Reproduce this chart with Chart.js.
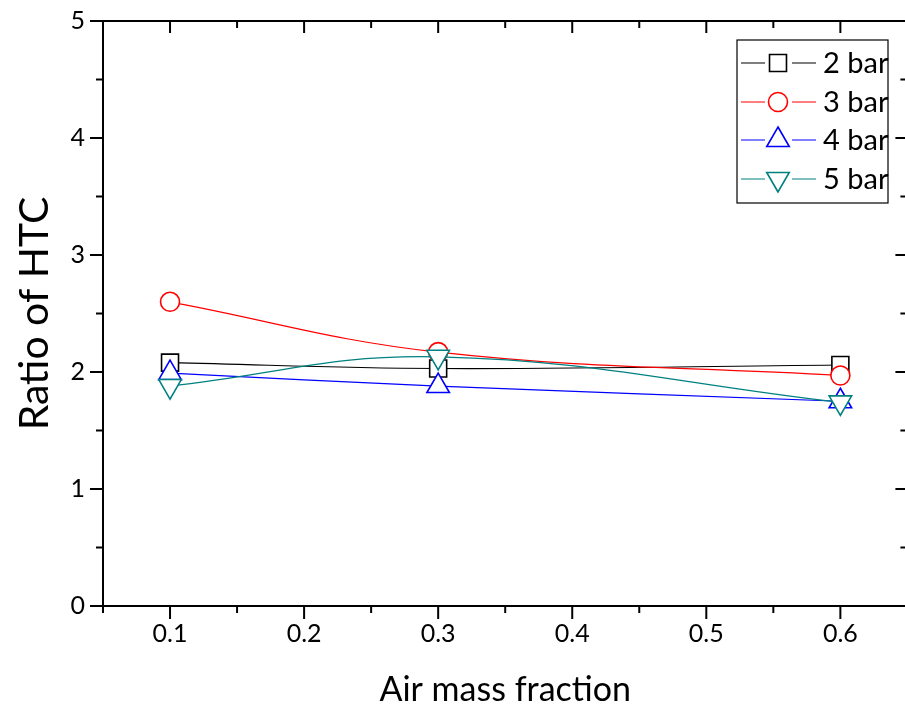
<!DOCTYPE html>
<html>
<head>
<meta charset="utf-8">
<script src="https://cdn.jsdelivr.net/npm/chart.js@4"></script>
<style>
  html, body { margin: 0; padding: 0; background: #fff; overflow: hidden; }
  canvas { display: block; }
</style>
</head>
<body>
<canvas id="htcChart" width="922" height="714"></canvas>
<script>
// Ratio of HTC vs air mass fraction

const airFraction = [0.1, 0.3, 0.6];
const bar2 = [2.08, 2.03, 2.06];
const bar3 = [2.60, 2.17, 1.97];
const bar4 = [1.99, 1.88, 1.75];
const bar5 = [1.88, 2.13, 1.74];
const seriesNames = ['2 bar', '3 bar', '4 bar', '5 bar'];

const xTicks = [0.1, 0.2, 0.3, 0.4, 0.5, 0.6];
const xMinorTicks = [0.05, 0.15, 0.25, 0.35, 0.45, 0.55, 0.65];
const yTicks = [0, 1, 2, 3, 4, 5];
const yMinorTicks = [0.5, 1.5, 2.5, 3.5, 4.5];

const FONT = 'Lato, "Open Sans", sans-serif';

function toPoints(ys) {
    return airFraction.map((x, i) => ({ x: x, y: ys[i] }));
}

function makeSeries(label, ys, color, style, radius, rotation, order) {
    return {
        label: label,
        data: toPoints(ys),
        showLine: true,
        tension: 0.4,
        borderColor: color,
        borderWidth: 1.2,
        pointStyle: style,
        pointRadius: radius,
        pointHoverRadius: radius,
        pointRotation: rotation,
        pointBorderColor: color,
        pointBackgroundColor: '#fff',
        pointBorderWidth: 1.6,
        order: order
    };
}

const datasets = [
    makeSeries(seriesNames[0], bar2, '#000000', 'rect', 12, 0, 4),
    makeSeries(seriesNames[1], bar3, '#ff0000', 'circle', 9.5, 0, 3),
    makeSeries(seriesNames[2], bar4, '#0000ff', 'triangle', 13, 0, 2),
    makeSeries(seriesNames[3], bar5, '#008080', 'triangle', 13, 180, 1)
];

// frame, outward ticks on bottom/left, inward ticks on top/right
const frameTicks = {
    id: 'frameTicks',
    afterDraw(chart) {
        const { ctx, chartArea: a, scales: { x, y } } = chart;
        ctx.save();
        ctx.strokeStyle = '#000';
        ctx.lineWidth = 2;
        ctx.strokeRect(a.left, a.top, a.right - a.left, a.bottom - a.top);
        const seg = (x1, y1, x2, y2) => {
            ctx.beginPath(); ctx.moveTo(x1, y1); ctx.lineTo(x2, y2); ctx.stroke();
        };
        xTicks.forEach(v => {
            const px = x.getPixelForValue(v);
            seg(px, a.bottom, px, a.bottom + 13);
            seg(px, a.top, px, a.top + 12);
        });
        xMinorTicks.forEach(v => {
            const px = x.getPixelForValue(v);
            seg(px, a.bottom, px, a.bottom + 7);
            seg(px, a.top, px, a.top + 7);
        });
        yTicks.forEach(v => {
            const py = y.getPixelForValue(v);
            seg(a.left - 13, py, a.left, py);
            seg(a.right - 12, py, a.right, py);
        });
        yMinorTicks.forEach(v => {
            const py = y.getPixelForValue(v);
            seg(a.left - 7, py, a.left, py);
            seg(a.right - 7, py, a.right, py);
        });
        ctx.restore();
    }
};

// legend box inside the plot, top right
const boxLegend = {
    id: 'boxLegend',
    afterDraw(chart) {
        const { ctx } = chart;
        const left = 737, top = 40, right = 888, bottom = 203;
        ctx.save();
        ctx.fillStyle = '#fff';
        ctx.fillRect(left, top, right - left, bottom - top);
        ctx.strokeStyle = '#000';
        ctx.lineWidth = 1.2;
        ctx.strokeRect(left, top, right - left, bottom - top);

        const rowY = [63, 102, 140, 179];
        chart.data.datasets.forEach((ds, i) => {
            const cy = rowY[i];
            ctx.strokeStyle = ds.borderColor;
            ctx.lineWidth = 1.2;
            ctx.beginPath();
            ctx.moveTo(741, cy); ctx.lineTo(765, cy);
            ctx.moveTo(792, cy); ctx.lineTo(816, cy);
            ctx.stroke();
            ctx.fillStyle = '#fff';
            ctx.lineWidth = ds.pointBorderWidth;
            Chart.helpers.drawPoint(ctx, {
                pointStyle: ds.pointStyle,
                radius: ds.pointRadius,
                rotation: ds.pointRotation,
                borderWidth: ds.pointBorderWidth
            }, 778, cy);
            ctx.fillStyle = '#000';
            ctx.font = '29px ' + FONT;
            ctx.textBaseline = 'middle';
            ctx.textAlign = 'left';
            ctx.fillText(ds.label, 823, cy + 1);
        });
        ctx.restore();
    }
};

// keep the plot area where the layout padding puts it
function noLabelPadding(scale) {
    scale.paddingTop = 0;
    scale.paddingBottom = 0;
    scale.paddingLeft = 0;
    scale.paddingRight = 0;
}

Chart.defaults.font.family = FONT;
Chart.defaults.color = '#000';

const ctx = document.getElementById('htcChart').getContext('2d');
window.htcChart = new Chart(ctx, {
    type: 'scatter',
    data: { datasets: datasets },
    options: {
        responsive: false,
        animation: false,
        layout: { padding: { top: 21, right: 5, left: 0, bottom: 0 } },
        plugins: {
            legend: { display: false },
            tooltip: { enabled: false }
        },
        scales: {
            x: {
                type: 'linear',
                min: 0.05,
                max: 0.65,
                afterBuildTicks: scale => { scale.ticks = xTicks.map(v => ({ value: v })); },
                afterFit: scale => { scale.height = 108; noLabelPadding(scale); },
                grid: { display: false, drawTicks: false },
                border: { display: false },
                ticks: {
                    padding: 13,
                    font: { size: 25 },
                    maxRotation: 0,
                    callback: v => v.toFixed(1)
                },
                title: {
                    display: true,
                    text: 'Air mass fraction',
                    font: { size: 34 },
                    padding: { top: 0, bottom: 4 }
                }
            },
            y: {
                type: 'linear',
                min: 0,
                max: 5,
                afterBuildTicks: scale => { scale.ticks = yTicks.map(v => ({ value: v })); },
                afterFit: scale => { scale.width = 103; noLabelPadding(scale); },
                grid: { display: false, drawTicks: false },
                border: { display: false },
                ticks: {
                    padding: 18,
                    font: { size: 25 },
                    callback: v => String(v)
                },
                title: {
                    display: true,
                    text: 'Ratio of HTC',
                    font: { size: 41 },
                    padding: { top: 10, bottom: 0 }
                }
            }
        }
    },
    plugins: [frameTicks, boxLegend]
});
</script>
</body>
</html>
